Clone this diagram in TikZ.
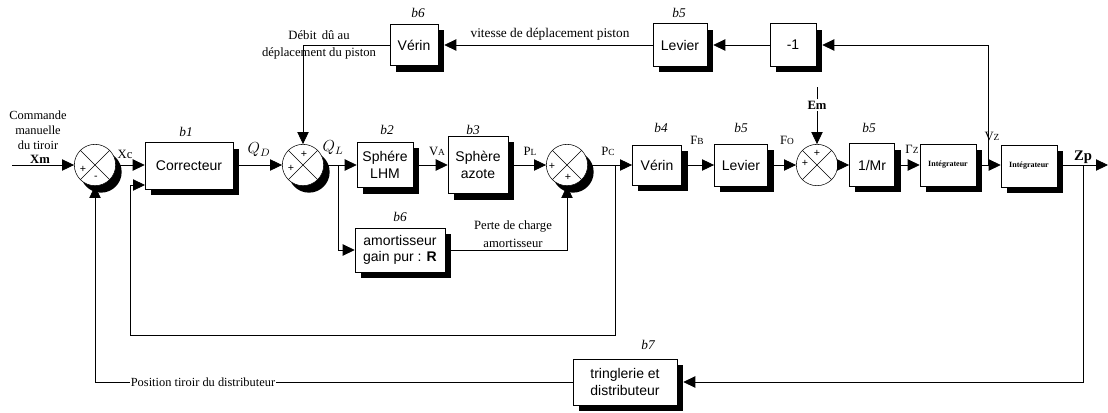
\documentclass[tikz,border=0pt]{standalone}
\usepackage{fontspec}
\setmainfont{Liberation Serif}
\newfontfamily\arial{Liberation Sans}
\usetikzlibrary{arrows.meta,positioning,shadows,calc}
\tikzstyle{block} = [rectangle, draw, fill=white, align=center, inner sep=1pt,
  font=\arial\fontsize{10.5}{12.5}\selectfont,
  drop shadow={shadow xshift=4.5pt, shadow yshift=-4.5pt, fill=black, opacity=1}]
\tikzstyle{sum} = [circle, draw, fill=white, minimum size=31pt, inner sep=0pt,
  path picture={\draw (path picture bounding box.north west) -- (path picture bounding box.south east)
    (path picture bounding box.north east) -- (path picture bounding box.south west);}]
\tikzstyle{sumshadow} = [circle, fill=black, minimum size=31pt, inner sep=0pt]
\tikzstyle{line} = [draw, line width=0.6pt, -{Triangle[length=9pt,width=8.5pt]}]
\tikzstyle{back} = [shorten >=4.5pt]
\tikzstyle{sig} = [font=\fontsize{9.5}{11}\selectfont, inner sep=1pt]
\tikzstyle{blab} = [font=\itshape\fontsize{10}{12}\selectfont, inner sep=1pt]
\tikzstyle{pm} = [font=\arial\fontsize{8}{8}\selectfont, inner sep=0pt]
\newcommand{\sm}[1]{{\fontsize{7}{8}\selectfont #1}}

\begin{document}
\begin{tikzpicture}[x=0.75pt,y=-0.75pt]
  \useasboundingbox (0,0) rectangle (1108,412);

  %%%%%%%%%%%%%%%%%%%%%%%%%%%%%%%%%%%%%%%%%%%%%%%%%%%%%%%%%%%%%%
  %                    MAIN CHAIN                              %
  %%%%%%%%%%%%%%%%%%%%%%%%%%%%%%%%%%%%%%%%%%%%%%%%%%%%%%%%%%%%%%

  % shadows of the summing points
  \node [sumshadow] (sh1) at (101,172) {};
  \node [sumshadow] (sh2) at (309,172) {};
  \node [sumshadow] (sh3) at (573,172) {};

  \node [sum] (s1) at (95,165) {};
  \node [block, minimum width=66pt, minimum height=35pt] (cor) at (189,166) {Correcteur};
  \node [sum] (s2) at (303,165) {};
  \node [block, minimum width=42pt, minimum height=34pt] (lhm) at (385,165) {Sphére\\LHM};
  \node [block, minimum width=45pt, minimum height=43pt] (azo) at (478,165) {Sphère\\azote};
  \node [sum] (s3) at (567,165) {};
  \node [block, minimum width=37pt, minimum height=30pt] (ver) at (657,165) {Vérin};
  \node [block, minimum width=40pt, minimum height=31.5pt] (lev) at (741,165) {Levier};
  \node [sum] (s4) at (817,165) {};
  \node [block, minimum width=34pt, minimum height=32pt] (mr) at (872,165) {1/Mr};
  \node [block, minimum width=42pt, minimum height=31.5pt, font=\bfseries\fontsize{6}{7}\selectfont] (int1) at (948,165) {Intégrateur};
  \node [block, minimum width=42pt, minimum height=31.5pt, font=\bfseries\fontsize{6}{7}\selectfont] (int2) at (1029,166) {Intégrateur};

  %%%%%%%%%%%%%%%%%%%%%%%%%%%%%%%%%%%%%%%%%%%%%%%%%%%%%%%%%%%%%%
  %                    FEEDBACK BLOCKS                         %
  %%%%%%%%%%%%%%%%%%%%%%%%%%%%%%%%%%%%%%%%%%%%%%%%%%%%%%%%%%%%%%

  \node [block, minimum width=36pt, minimum height=31pt] (verh) at (414,45) {Vérin};
  \node [block, minimum width=40.5pt, minimum height=32pt] (levh) at (680,45) {Levier};
  \node [block, minimum width=34.5pt, minimum height=32pt] (neg) at (793,45) {-1};
  \node [block, minimum width=67.5pt, minimum height=33pt] (amo) at (400,250) {amortisseur\\gain pur : \textbf{R}};
  \node [block, minimum width=78pt, minimum height=34.5pt] (trg) at (625,382) {tringlerie et\\distributeur};

  % signs
  \node [pm] at ([shift={(-12,4)}]s1) {+};
  \node [pm] at ([shift={(1,13)}]s1) {-};
  \node [pm] at ([shift={(1,-11)}]s2) {+};
  \node [pm] at ([shift={(-12,3)}]s2) {+};
  \node [pm] at ([shift={(-15,1)}]s3) {+};
  \node [pm] at ([shift={(1,12)}]s3) {+};
  \node [pm] at ([shift={(0,-12)}]s4) {+};
  \node [pm] at ([shift={(-12,-2)}]s4) {+};

  % block names
  \node [blab] at (186,132) {b1};
  \node [blab] at (387,130) {b2};
  \node [blab] at (473,130) {b3};
  \node [blab] at (661,128) {b4};
  \node [blab] at (741,128) {b5};
  \node [blab] at (869,128) {b5};
  \node [blab] at (418,13) {b6};
  \node [blab] at (679,13) {b5};
  \node [blab] at (400,217) {b6};
  \node [blab] at (648,345) {b7};

  % signal names
  \node [sig, align=center, font=\fontsize{9.3}{11.2}\selectfont] (cmd) at (38,130) {Commande\\manuelle\\du tiroir};
  \node [sig] (xm) at (40,159) {\textbf{Xm}};
  \node [sig] (xc) at (125,154) {Xc};
  \node [sig] (qd) at (259,150) {\large$Q_D$};
  \node [sig] (ql) at (333,148) {\large$Q_L$};
  \node [sig] (va) at (437,151) {V\sm{A}};
  \node [sig] (pl) at (530,151) {P\sm{L}};
  \node [sig] (pcl) at (608,151) {P\sm{C}};
  \node [sig] (fb) at (697,140) {F\sm{B}};
  \node [sig] (fo) at (787,140) {F\sm{O}};
  \node [sig] (gz) at (912,149) {Γ\sm{Z}};
  \node [sig] (vzl) at (992,136) {V\sm{Z}};
  \node [sig, font=\bfseries\fontsize{11}{12}\selectfont] (zpl) at (1083,157) {Zp};
  \node [sig, font=\bfseries\fontsize{9.5}{11}\selectfont] (em) at (817,105) {Em};
  \node [sig, align=center, font=\fontsize{9.5}{12.8}\selectfont] (debit) at (319,45) {Débit\,\ dû au\\déplacement du piston};
  \node [sig, font=\fontsize{10}{12}\selectfont] (vit) at (550,34) {vitesse de déplacement piston};
  \node [sig, align=center, font=\fontsize{9.5}{13}\selectfont] (perte) at (513,234) {Perte de charge\\amortisseur};

  \coordinate (xin) at (12,165);
  \coordinate (qlb) at (338,165);
  \coordinate (pcb) at (615,165);
  \coordinate (pcd) at (130,335);
  \coordinate (corin) at (145,185);
  \coordinate (vzb) at (988,165);
  \coordinate (zpb) at (1083,165);
  \coordinate (zout) at (1108,165);

  % forward path
  \draw [line] (xin) -- (s1.west);
  \draw [line] (s1.east) -- (s1.east -| cor.west);
  \draw [line] (cor.east |- s2) -- (s2.west);
  \draw [line] (s2.east) -- (lhm.west);
  \draw [line] (lhm.east) -- (azo.west);
  \draw [line] (azo.east) -- (s3.west);
  \draw [line] (s3.east) -- (ver.west);
  \draw [line] (ver.east) -- (lev.west);
  \draw [line] (lev.east) -- (s4.west);
  \draw [line] (s4.east) -- (mr.west);
  \draw [line] (mr.east) -- (int1.west);
  \draw [line] (int1.east) -- (int1.east -| int2.west);
  \draw [line] (int2.east |- zout) -- (zout);

  % loops
  \draw [line] (verh.west) -| (s2.north);
  \draw [line, back] (levh.west) -- (verh.east);
  \draw [line, back] (neg.west) -- (levh.east);
  \draw [line, back] (vzb) |- (neg.east);
  \draw [line] (qlb) |- (amo.west);
  \draw [line] (amo.east) -| (s3.south);
  \draw [line] (pcb) |- (pcd) |- (corin);
  \draw [line, back] (zpb) |- (trg.east);
  \draw [line] (trg.west) -| (s1.south);
  \draw [line width=0.6pt] (em.north) -- ++(0,-12);
  \draw [line] (em.south) -- (s4.north);

  \node [sig, fill=white, inner xsep=0.5pt, font=\fontsize{9.3}{11}\selectfont] (pos) at (203,382) {Position tiroir du distributeur};

\end{tikzpicture}
\end{document}
